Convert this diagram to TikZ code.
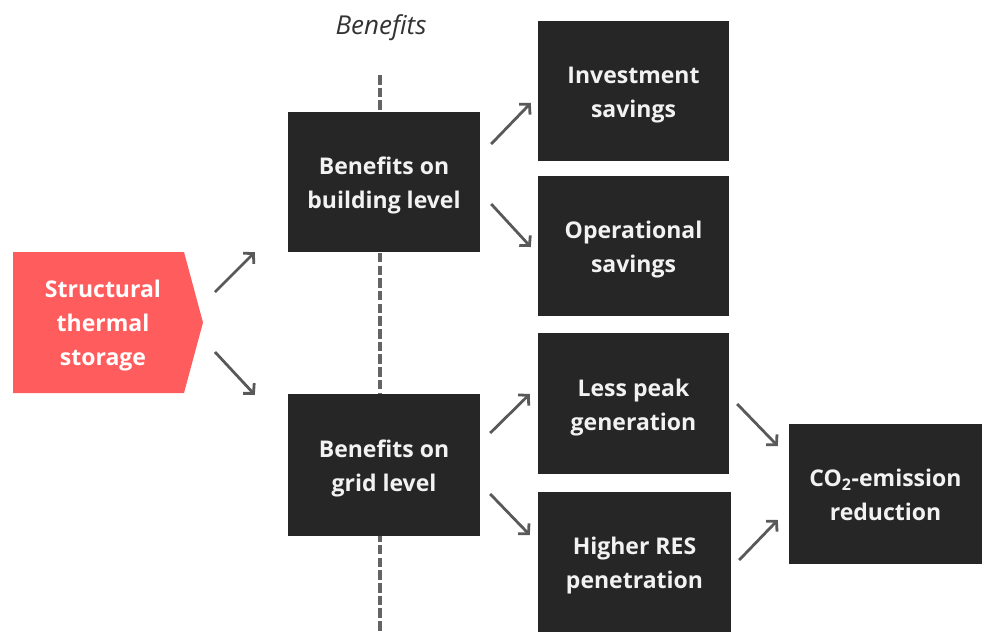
\documentclass[tikz,border=0pt]{standalone}
\usepackage{fontspec}
\setmainfont{Open Sans}[Ligatures={NoCommon}]
\usetikzlibrary{arrows.meta,calc}
\definecolor{boxfill}{RGB}{38,38,38}
\definecolor{boxtext}{RGB}{242,242,242}
\definecolor{redfill}{RGB}{255,93,93}
\definecolor{arrowgray}{RGB}{89,89,89}
\definecolor{dashgray}{RGB}{100,100,100}
\definecolor{labelgray}{RGB}{51,51,51}
\newcommand\lowtext[2][-3pt]{\raisebox{#1}[\height][\depth]{\begin{tabular}{@{}c@{}}#2\end{tabular}}}
\begin{document}
\begin{tikzpicture}[x=1pt,y=-1pt,
  box/.style={fill=boxfill, minimum width=191pt, minimum height=140pt, inner sep=0pt,
    text=boxtext, font=\fontsize{23}{34}\selectfont\bfseries},
  redtext/.style={inner sep=0pt, text=white, font=\fontsize{23}{34}\selectfont\bfseries},
  arr/.style={draw=arrowgray, line width=2.8pt, -{Straight Barb[length=7pt,width=15pt]}},
  divider/.style={draw=dashgray, line width=3.2pt, dash pattern=on 9.5pt off 3.2pt}]
\useasboundingbox (0,0) rectangle (985,632);
% divider line
\coordinate (dtop) at (380,75);
\coordinate (dbot) at (380,632);
\draw[divider] (dtop) -- (dbot);
\node[font=\fontsize{26}{30}\selectfont\itshape, text=labelgray] (benef) at (381,28) {Benefits};
% red source shape
\fill[redfill] (13,252) -- (184,252) -- (203,322.5) -- (184,393) -- (13,393) -- cycle;
\coordinate (tip) at (203,322.5);
\node[redtext] (red) at (103,322.5) {\lowtext[-2pt]{Structural\\thermal\\storage}};
% boxes
\node[box, minimum width=192pt] (b1) at (384,182) {\lowtext{Benefits on\\building level}};
\node[box, minimum width=192pt, minimum height=142pt] (b2) at (384,465) {\lowtext{Benefits on\\grid level}};
\node[box] (inv) at (633.5,91) {\lowtext{Investment\\savings}};
\node[box] (op) at (633.5,246) {\lowtext{Operational\\savings}};
\node[box, minimum height=141pt] (lp) at (633.5,403.5) {\lowtext{Less peak\\generation}};
\node[box, minimum width=193pt] (hr) at (634.5,562) {\lowtext{Higher RES\\penetration}};
\node[box, minimum width=193pt] (co2) at (885.5,494) {\lowtext{CO\textsubscript{2}-emission\\reduction}};
% arrows
\draw[arr] ($(tip)+(12,-30.5)$) -- ($(b1.south west)+(-33,0)$);
\draw[arr] ($(tip)+(12,29.5)$) -- ($(b2.north west)+(-33,1)$);
\draw[arr] ($(b1.east)+(11,-38)$) -- ($(inv.west)+(-7,12)$);
\draw[arr] ($(b1.east)+(11,22)$) -- ($(op.west)+(-7,1)$);
\draw[arr] ($(b2.east)+(10,-32)$) -- ($(lp.west)+(-8,-9.5)$);
\draw[arr] ($(b2.east)+(10,29)$) -- ($(hr.west)+(-8,-27)$);
\draw[arr] ($(lp.east)+(8,0.5)$) -- ($(co2.west)+(-11,-48)$);
\draw[arr] ($(hr.east)+(8,-2)$) -- ($(co2.west)+(-11,26)$);
\end{tikzpicture}
\end{document}
